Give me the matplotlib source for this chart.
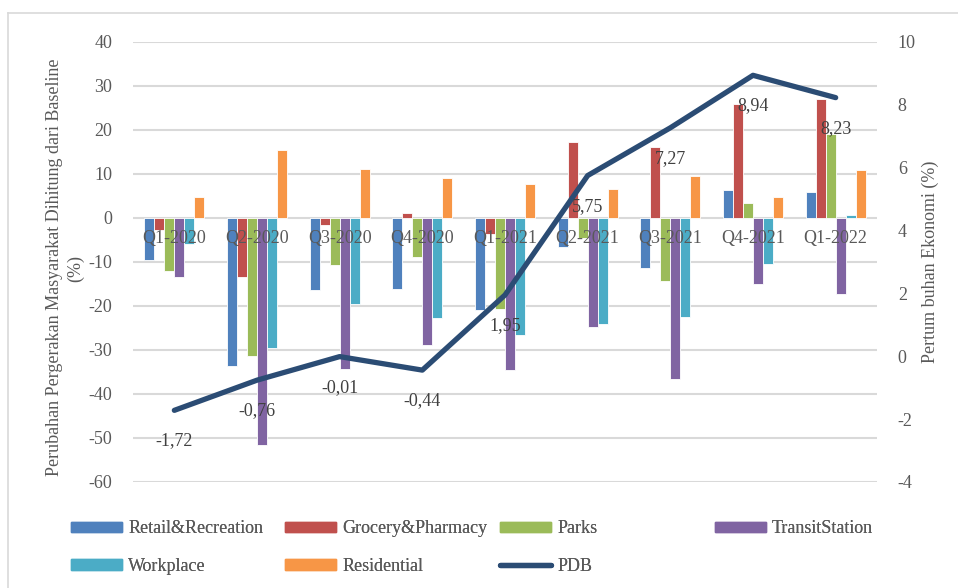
import numpy as np
import matplotlib.pyplot as plt
from matplotlib.lines import Line2D
from matplotlib.patches import Patch

plt.rcParams['font.family'] = ['Liberation Serif', 'DejaVu Serif']
plt.rcParams['axes.unicode_minus'] = False

# mobility change vs baseline (%) and quarterly GDP growth (%)
quarters = ['Q1-2020', 'Q2-2020', 'Q3-2020', 'Q4-2020', 'Q1-2021',
            'Q2-2021', 'Q3-2021', 'Q4-2021', 'Q1-2022']
retail = [-9.6, -33.7, -16.4, -16.1, -21.0, -6.5, -11.4, 6.4, 5.8]
grocery = [-2.7, -13.4, -1.6, 1.2, -3.6, 17.3, 16.1, 26.0, 27.1]
parks = [-12.1, -31.4, -10.6, -8.9, -20.7, -4.5, -14.3, 3.5, 19.2]
transit = [-13.3, -51.7, -34.3, -28.9, -34.5, -24.8, -36.7, -14.9, -17.2]
workplace = [-5.8, -29.5, -19.5, -22.8, -26.7, -24.0, -22.5, -10.4, 0.6]
residential = [4.8, 15.4, 11.1, 9.0, 7.8, 6.6, 9.6, 4.8, 10.8]
pdb = [-1.72, -0.76, -0.01, -0.44, 1.95, 5.75, 7.27, 8.94, 8.23]

series = [('Retail&Recreation', retail, '#4F81BD'),
          ('Grocery&Pharmacy', grocery, '#C0504D'),
          ('Parks', parks, '#9BBB59'),
          ('TransitStation', transit, '#8064A2'),
          ('Workplace', workplace, '#4BACC6'),
          ('Residential', residential, '#F79646')]
line_col = '#2B4C74'
txt = '#595959'

fig = plt.figure(figsize=(9.58, 5.88), dpi=100)
ax = fig.add_axes([133/958, 1-482/588, (877-133)/958, 440/588])
ax2 = ax.twinx()

x = np.arange(len(quarters))
w = 0.121
for k, (name, vals, col) in enumerate(series):
    ax.bar(x + (k - 2.5) * w, vals, w, color=col, edgecolor='white',
           linewidth=0.6, zorder=3)

ax.set_xlim(-0.5, len(quarters) - 0.5)
ax.set_ylim(-60, 40)
ax.set_yticks(range(-60, 41, 10))
ax.grid(axis='y', color='#D9D9D9', linewidth=1.5, zorder=0)
ax.set_axisbelow(True)
ax.set_xticks([])
for s in ax.spines.values():
    s.set_visible(False)
for s in ax2.spines.values():
    s.set_visible(False)
ax.tick_params(axis='y', length=0, pad=15, labelsize=13, labelcolor=txt)

# category names sit just under the zero line
for i, q in enumerate(quarters):
    ax.annotate(q, (i, 0), xytext=(0, -15), textcoords='offset points',
                ha='center', va='center', fontsize=13, color=txt, zorder=6)

ax2.plot(x, pdb, color=line_col, linewidth=3.8, solid_capstyle='round',
         solid_joinstyle='round', zorder=5)
ax2.set_ylim(-4, 10)
ax2.set_yticks(range(-4, 11, 2))
ax2.tick_params(axis='y', length=0, pad=15, labelsize=13, labelcolor=txt)
for i, v in enumerate(pdb):
    ax2.annotate(f'{v:.2f}'.replace('.', ','), (i, v), xytext=(0, -22),
                 textcoords='offset points', ha='center', va='center',
                 fontsize=13, color='#404040', zorder=7)

fig.text(55/958, 1-267/588,
         'Perubahan Pergerakan Masyarakat Dihitung dari Baseline',
         rotation=90, ha='center', va='center', fontsize=13, color=txt)
fig.text(76/958, 1-268/588, '(%)', rotation=90, ha='center', va='center',
         fontsize=13, color=txt)
fig.text(930/958, 1-262/588, 'Pertum buhan Ekonomi (%)', rotation=90,
         ha='center', va='center', fontsize=13, color=txt)

# legend: one small legend per column so the columns are evenly spaced
h = {name: Patch(color=col) for name, _, col in series}
pdb_h = Line2D([], [], color=line_col, linewidth=3.8, solid_capstyle='round')
columns = [(['Retail&Recreation', 'Workplace'], 55),
           (['Grocery&Pharmacy', 'Residential'], 269),
           (['Parks', 'PDB'], 484),
           (['TransitStation'], 699)]
for names, xpos in columns:
    hs = [pdb_h if n == 'PDB' else h[n] for n in names]
    leg = fig.legend(hs, names, loc='upper left',
                     bbox_to_anchor=(xpos/958, 1-504/588), frameon=False,
                     fontsize=13, labelcolor=txt, handlelength=2.8,
                     handleheight=0.5, handletextpad=0.35, labelspacing=1.15)
    fig.add_artist(leg)

# outer chart border
fig.add_artist(Line2D([8/958, 8/958], [0, 1-13/588], color='#D9D9D9',
                      linewidth=1.2, transform=fig.transFigure))
fig.add_artist(Line2D([8/958, 1], [1-13/588, 1-13/588], color='#D9D9D9',
                      linewidth=1.2, transform=fig.transFigure))

fig.savefig('out.png', dpi=100)
